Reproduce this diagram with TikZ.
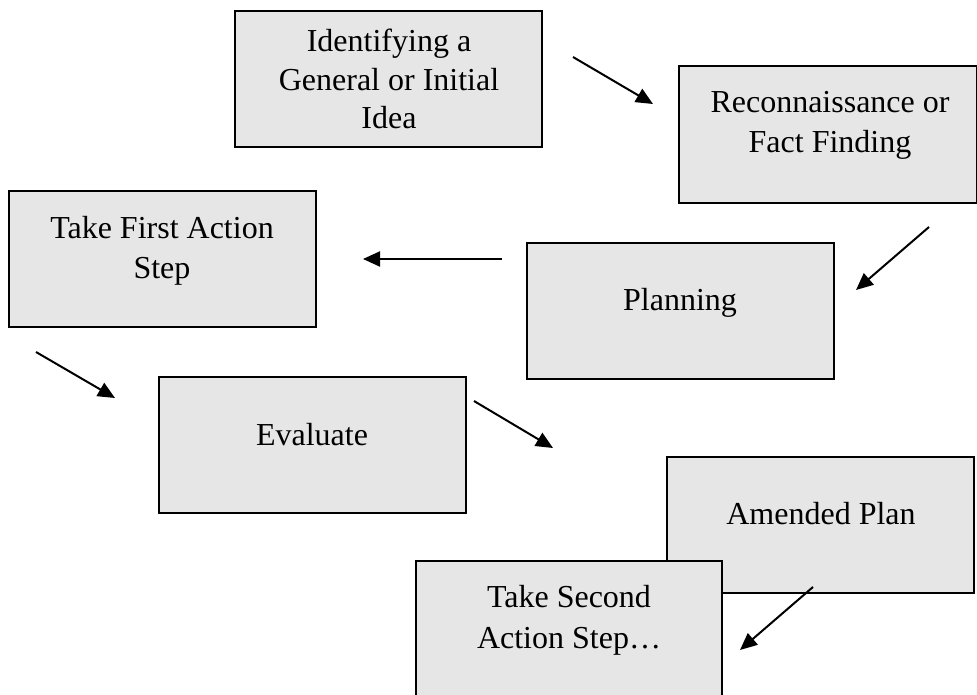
\documentclass[tikz,border=0pt]{standalone}
\usepackage{fontspec}
\setmainfont{Liberation Serif}
\usetikzlibrary{arrows.meta}
\definecolor{boxgray}{RGB}{230,230,230}
\begin{document}
\begin{tikzpicture}[x=1pt,y=-1pt,
  stagebox/.style={rectangle, draw=black, line width=2pt, fill=boxgray,
    inner sep=0pt, outer sep=0pt, anchor=north west,
    minimum width=307pt, minimum height=136pt},
  stagetext/.style={anchor=base, align=center, inner sep=0pt,
    font=\fontsize{32}{40}\selectfont},
  flow/.style={-{Triangle[length=17pt,width=15pt]}, line width=2pt}]
  \useasboundingbox (0,0) rectangle (977,695);

  % stage boxes
  \node[stagebox] (idea)    at (235,11)  {};
  \node[stagebox, minimum width=298pt, minimum height=137pt] (recon) at (679,66) {};
  \node[stagebox] (plan)    at (527,243) {};
  \node[stagebox] (first)   at (9,191)   {};
  \node[stagebox] (eval)    at (159,377) {};
  \node[stagebox] (amend)   at (667,457) {};
  \node[stagebox, minimum width=306pt, minimum height=160pt] (second) at (416,561) {};

  % box captions (anchored at the baseline of the last line)
  \node[stagetext, font=\fontsize{32}{38.5}\selectfont] (ideaT) at (389,129) {Identifying a\\General or Initial\\Idea};
  \node[stagetext] (reconT)  at (830,153) {Reconnaissance or\\Fact Finding};
  \node[stagetext] (planT)   at (680,310) {Planning};
  \node[stagetext] (firstT)  at (162,278) {Take First Action\\Step};
  \node[stagetext] (evalT)   at (312,445) {Evaluate};
  \node[stagetext] (amendT)  at (821,524) {Amended Plan};
  \node[stagetext, font=\fontsize{32}{41}\selectfont] (secondT) at (569,648) {Take Second\\Action Step…};

  % arrow ends
  \coordinate (a1s) at (573,57);  \coordinate (a1e) at (653,104);
  \coordinate (a2s) at (929,227); \coordinate (a2e) at (856,290);
  \coordinate (a3s) at (502,259); \coordinate (a3e) at (363,259);
  \coordinate (a4s) at (36,352);  \coordinate (a4e) at (115,398);
  \coordinate (a5s) at (474,401); \coordinate (a5e) at (553,448);
  \coordinate (a6s) at (813,587); \coordinate (a6e) at (740,650);

  % arrows between stages
  \draw[flow] (a1s) -- (a1e);
  \draw[flow] (a2s) -- (a2e);
  \draw[flow] (a3s) -- (a3e);
  \draw[flow] (a4s) -- (a4e);
  \draw[flow] (a5s) -- (a5e);
  \draw[flow] (a6s) -- (a6e);
\end{tikzpicture}
\end{document}
